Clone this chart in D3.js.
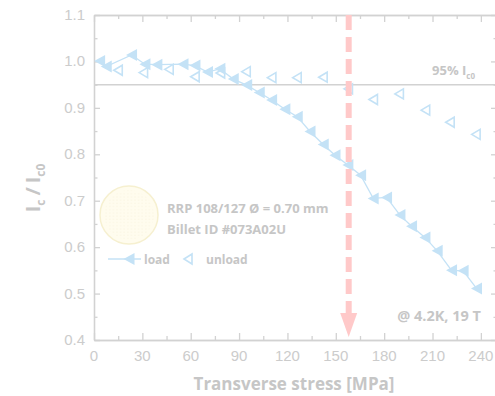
<!DOCTYPE html>
<html>
<head>
<meta charset="utf-8">
<script src="https://cdn.jsdelivr.net/npm/d3@7/dist/d3.min.js"></script>
<style>
  html, body { margin: 0; padding: 0; background: #fff; }
  svg { display: block; }
</style>
</head>
<body>
<script>
// load: filled markers joined by a line; unload: open markers
var loadX = [3.5, 7.6, 23.3, 31.6, 39, 55.2, 62.6, 70.4, 78.1, 86.4, 94.7, 102.5, 110.2, 118.4, 126.1,
             134, 142.2, 149.5, 157.5, 165.4, 173.2, 181.5, 189.8, 197, 205.3, 212.9, 221.8, 229, 237.3];
var loadY = [1.001, 0.989, 1.014, 0.994, 0.993, 0.994, 0.991, 0.977, 0.984, 0.962, 0.949, 0.933, 0.917, 0.897, 0.881,
             0.849, 0.821, 0.798, 0.777, 0.755, 0.705, 0.707, 0.669, 0.645, 0.621, 0.592, 0.550, 0.549, 0.511];
var unloadX = [14.9, 30.6, 46.5, 62.6, 78.4, 94.3, 110.2, 125.9, 142, 157.7, 173.2, 189.3, 205.6, 220.8, 236.9];
var unloadY = [0.981, 0.976, 0.983, 0.967, 0.975, 0.978, 0.965, 0.965, 0.966, 0.941, 0.918, 0.930, 0.895, 0.869, 0.843];
var xTicks = [0, 30, 60, 90, 120, 150, 180, 210, 240];
var yTicks = [0.4, 0.5, 0.6, 0.7, 0.8, 0.9, 1.0, 1.1];
var limitY = 0.95;      // 95% Ic0
var markStress = 158;   // dashed arrow

(function drawChart (d3) {
    "use strict";
    var width = 495,
        height = 396,
        left = 94, right = 497, top = 15, bottom = 340,
        axisCol = "#d2d2d2",
        textCol = "#c6c6c6",
        tickCol = "#cccccc",
        blue = "#c4e2f6",
        red = "#ffc9c9",
        svg, x, y, g;

    svg = d3.select("body").append("svg")
        .attr("width", width)
        .attr("height", height);

    x = d3.scaleLinear().domain([0, 250]).range([left, right]);
    y = d3.scaleLinear().domain([0.4, 1.1]).range([bottom, top]);

    // frame + inward ticks
    function tickAxis (axis, tr) {
        var a = svg.append("g").attr("transform", tr).call(axis);
        a.select(".domain").attr("stroke", axisCol).attr("stroke-width", 1.3);
        a.selectAll(".tick line").attr("stroke", axisCol).attr("stroke-width", 1.3);
        a.selectAll(".tick text").remove();
        return a;
    }
    var xMinor = d3.range(15, 250, 30), yMinor = d3.range(0.45, 1.1, 0.1);

    [[d3.axisTop, "translate(0," + bottom + ")"], [d3.axisBottom, "translate(0," + top + ")"]].forEach(function (p) {
        tickAxis(p[0](x).tickValues(xTicks).tickSize(7).tickSizeOuter(0), p[1]);
        tickAxis(p[0](x).tickValues(xMinor).tickSize(4).tickSizeOuter(0), p[1]);
    });
    [[d3.axisRight, "translate(" + left + ",0)"], [d3.axisLeft, "translate(" + right + ",0)"]].forEach(function (p) {
        tickAxis(p[0](y).tickValues(yTicks).tickSize(6).tickSizeOuter(0), p[1]);
        tickAxis(p[0](y).tickValues(yMinor).tickSize(3.5).tickSizeOuter(0), p[1]);
    });

    // tick labels
    svg.append("g").selectAll("text").data(xTicks).enter().append("text")
        .attr("x", function (d) { return x(d); })
        .attr("y", 361)
        .attr("text-anchor", "middle")
        .attr("fill", tickCol)
        .style("font", "15px 'Liberation Sans', Arial, sans-serif")
        .text(function (d) { return d; });
    svg.append("g").selectAll("text").data(yTicks).enter().append("text")
        .attr("x", 85)
        .attr("y", function (d) { return y(d) + 5; })
        .attr("text-anchor", "end")
        .attr("fill", tickCol)
        .style("font", "15px 'Liberation Sans', Arial, sans-serif")
        .text(function (d) { return d3.format(".1f")(d); });

    // axis titles
    svg.append("text")
        .attr("x", 294).attr("y", 390)
        .attr("text-anchor", "middle")
        .attr("fill", textCol)
        .style("font", "bold 17px 'Open Sans', sans-serif")
        .text("Transverse stress [MPa]");
    var yt = svg.append("text")
        .attr("transform", "translate(40,188) rotate(-90)")
        .attr("text-anchor", "middle")
        .attr("fill", textCol)
        .style("font", "bold 20px 'Open Sans', sans-serif");
    yt.append("tspan").text("I");
    yt.append("tspan").attr("dy", 5).style("font-size", "12px").text("c");
    yt.append("tspan").attr("dy", -5).attr("dx", 4).text("/");
    yt.append("tspan").attr("dx", 4).text("I");
    yt.append("tspan").attr("dy", 5).style("font-size", "12px").text("c0");

    // 95% line
    svg.append("line")
        .attr("x1", left).attr("x2", right)
        .attr("y1", y(limitY)).attr("y2", y(limitY))
        .attr("stroke", axisCol).attr("stroke-width", 1.5);
    var lt = svg.append("text")
        .attr("x", 475).attr("y", y(limitY) - 10)
        .attr("text-anchor", "end")
        .attr("fill", textCol)
        .style("font", "bold 13px 'Open Sans', sans-serif");
    lt.append("tspan").text("95% I");
    lt.append("tspan").attr("dy", 4).style("font-size", "8px").text("c0");

    // wire cross-section picture
    var defs = svg.append("defs");
    defs.append("pattern")
        .attr("id", "fil").attr("patternUnits", "userSpaceOnUse")
        .attr("width", 3.6).attr("height", 3.2)
        .append("circle").attr("cx", 1.8).attr("cy", 1.6).attr("r", 0.5).attr("fill", "#f3eed4");
    svg.append("circle").attr("cx", 129).attr("cy", 215).attr("r", 29)
        .attr("fill", "#fffcee").attr("stroke", "#f6f0d0").attr("stroke-width", 1.5);
    svg.append("circle").attr("cx", 129).attr("cy", 215).attr("r", 25)
        .attr("fill", "url(#fil)");

    svg.append("text").attr("x", 167).attr("y", 213)
        .attr("fill", textCol)
        .style("font", "bold 13px 'Open Sans', sans-serif")
        .text("RRP 108/127 \u00d8 = 0.70 mm");
    svg.append("text").attr("x", 167).attr("y", 234)
        .attr("fill", textCol)
        .style("font", "bold 13px 'Open Sans', sans-serif")
        .text("Billet ID #073A02U");
    svg.append("text").attr("x", 481).attr("y", 321)
        .attr("text-anchor", "end")
        .attr("fill", textCol)
        .style("font", "bold 14.5px 'Open Sans', sans-serif")
        .text("@ 4.2K, 19 T");

    // markers
    function tri (w, h) {
        return "M" + (-w / 2) + ",0L" + (w / 2) + "," + (-h / 2) + "L" + (w / 2) + "," + (h / 2) + "Z";
    }
    var loadPts = loadX.map(function (d, i) { return [d, loadY[i]]; }),
        unloadPts = unloadX.map(function (d, i) { return [d, unloadY[i]]; });

    g = svg.append("g");
    g.selectAll("path.un").data(unloadPts).enter().append("path")
        .attr("class", "un")
        .attr("d", tri(8.5, 10))
        .attr("transform", function (d) { return "translate(" + x(d[0]) + "," + y(d[1]) + ")"; })
        .attr("fill", "none").attr("stroke", blue).attr("stroke-width", 1.6);
    g.append("path")
        .datum(loadPts)
        .attr("d", d3.line().x(function (d) { return x(d[0]); }).y(function (d) { return y(d[1]); }))
        .attr("fill", "none").attr("stroke", blue).attr("stroke-width", 1.3);
    g.selectAll("path.ld").data(loadPts).enter().append("path")
        .attr("class", "ld")
        .attr("d", tri(11, 12))
        .attr("transform", function (d) { return "translate(" + x(d[0]) + "," + y(d[1]) + ")"; })
        .attr("fill", blue);

    // legend
    svg.append("line").attr("x1", 108).attr("x2", 141).attr("y1", 259).attr("y2", 259)
        .attr("stroke", blue).attr("stroke-width", 1.3);
    svg.append("path").attr("d", tri(11, 12)).attr("transform", "translate(129,259)").attr("fill", blue);
    svg.append("text").attr("x", 144).attr("y", 264)
        .attr("fill", textCol).style("font", "bold 12px 'Open Sans', sans-serif").text("load");
    svg.append("path").attr("d", tri(8, 10)).attr("transform", "translate(188,259)")
        .attr("fill", "none").attr("stroke", blue).attr("stroke-width", 1.6);
    svg.append("text").attr("x", 206).attr("y", 264)
        .attr("fill", textCol).style("font", "bold 12px 'Open Sans', sans-serif").text("unload");

    // dashed arrow at critical stress
    svg.append("line")
        .attr("x1", x(markStress)).attr("x2", x(markStress))
        .attr("y1", top).attr("y2", 314)
        .attr("stroke", red).attr("stroke-width", 6)
        .attr("stroke-dasharray", "15,7");
    svg.append("path")
        .attr("d", "M" + (x(markStress) - 8.5) + ",313L" + (x(markStress) + 8.5) + ",313L" + x(markStress) + ",337Z")
        .attr("fill", red);
})(d3);
</script>
</body>
</html>
